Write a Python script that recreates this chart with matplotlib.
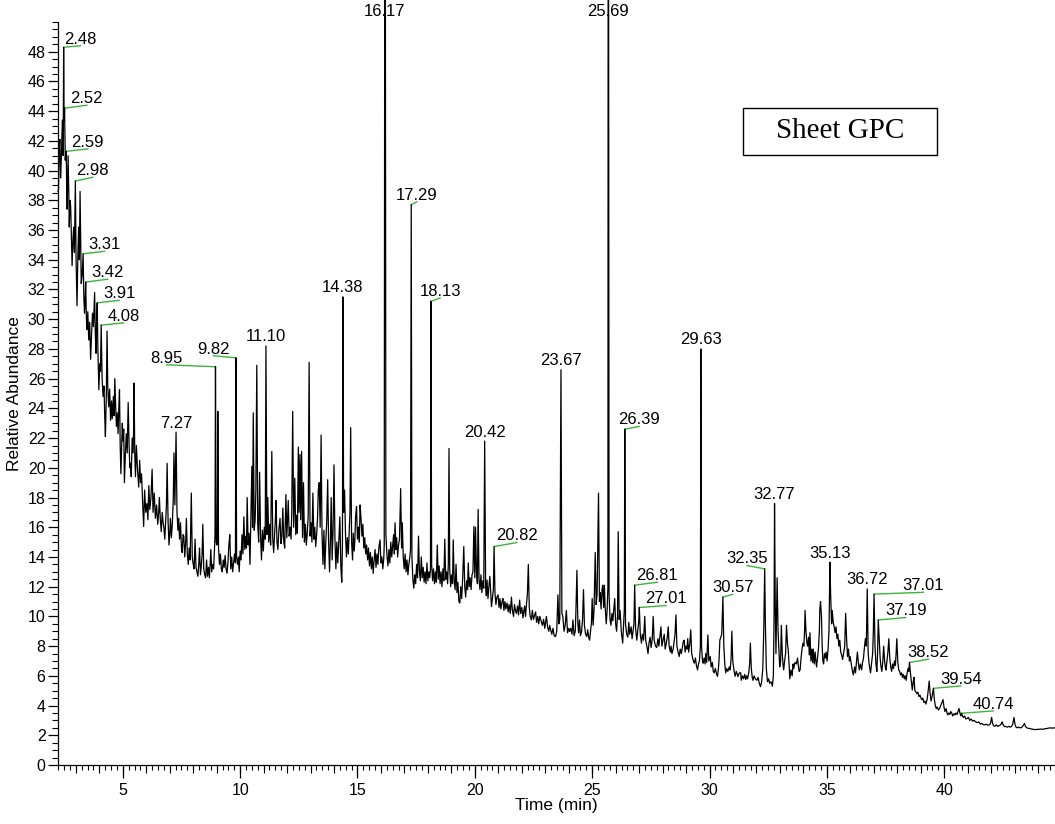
import matplotlib
matplotlib.use('Agg')
import matplotlib.pyplot as plt
from matplotlib.patches import Rectangle
import numpy as np

plt.rcParams['font.family'] = ['Liberation Sans', 'DejaVu Sans']

# ---------------- data: chromatogram trace (time [min], relative abundance) ----------------
trace_a = [(2.24, 38.6), (2.26, 38.7), (2.29, 41.5), (2.32, 42.1), (2.35, 39.5), (2.38, 40.7), (2.41, 42.5),
           (2.43, 43.4), (2.46, 41.0), (2.48, 48.3), (2.50, 43.4), (2.52, 44.2), (2.55, 40.7), (2.57, 41.2),
           (2.59, 41.3), (2.61, 39.0), (2.63, 37.4), (2.67, 41.0), (2.70, 38.5), (2.72, 36.2), (2.75, 38.0),
           (2.78, 37.6), (2.81, 35.5), (2.84, 33.6), (2.88, 35.5), (2.91, 36.2), (2.94, 34.5), (2.98, 39.3),
           (3.01, 34.0), (3.05, 30.9), (3.09, 34.5), (3.12, 36.2), (3.15, 34.0), (3.18, 38.6), (3.21, 35.0),
           (3.23, 32.4), (3.27, 33.0), (3.31, 34.4), (3.34, 31.5), (3.37, 30.4), (3.40, 31.5), (3.42, 32.5),
           (3.45, 30.0), (3.48, 29.3), (3.51, 30.5), (3.55, 28.6), (3.59, 29.8), (3.63, 27.3), (3.67, 29.0),
           (3.71, 30.4), (3.75, 29.5), (3.80, 31.8), (3.83, 29.0), (3.86, 27.7), (3.88, 29.5), (3.91, 31.1),
           (3.94, 28.0), (3.98, 25.25), (4.02, 27.0), (4.05, 26.5), (4.08, 29.6), (4.12, 26.0), (4.16, 24.8),
           (4.20, 25.5), (4.23, 23.5), (4.26, 22.1), (4.30, 25.0), (4.33, 29.2), (4.36, 25.5), (4.40, 24.1),
           (4.44, 25.3), (4.48, 23.2), (4.52, 24.5), (4.55, 23.3), (4.60, 24.8), (4.63, 23.5), (4.66, 26.0),
           (4.70, 24.0), (4.73, 22.8), (4.76, 23.7), (4.80, 22.3), (4.83, 24.0), (4.86, 25.25), (4.89, 21.5),
           (4.92, 19.6), (4.95, 21.2), (4.98, 23.0), (5.01, 21.8), (5.04, 22.6), (5.07, 19.0), (5.11, 20.9),
           (5.15, 22.3), (5.19, 21.0), (5.23, 24.4), (5.27, 21.5), (5.30, 20.0), (5.33, 20.3), (5.36, 19.4),
           (5.40, 22.0), (5.44, 21.0), (5.46, 22.5), (5.48, 25.7)]

trace_b = [(5.51, 21.0), (5.54, 19.4), (5.58, 21.5), (5.63, 19.8), (5.68, 18.7), (5.72, 20.5), (5.76, 19.0),
           (5.80, 19.6), (5.85, 17.5), (5.89, 16.05), (5.93, 18.5), (5.98, 17.0), (6.03, 17.6), (6.07, 16.5),
           (6.11, 18.8), (6.15, 17.2), (6.20, 18.0), (6.25, 19.9), (6.29, 17.0), (6.34, 18.3), (6.39, 16.6),
           (6.44, 17.5), (6.49, 16.2), (6.53, 17.0), (6.56, 18.0), (6.60, 16.5), (6.64, 15.7), (6.68, 17.0),
           (6.72, 16.3), (6.75, 16.0), (6.79, 15.2), (6.83, 16.5), (6.86, 17.5), (6.89, 20.3), (6.93, 16.4),
           (6.97, 14.8), (7.01, 15.8), (7.03, 16.6), (7.07, 15.3), (7.11, 16.2), (7.15, 17.8), (7.18, 21.0),
           (7.22, 17.5), (7.27, 22.4), (7.31, 17.0), (7.35, 15.8), (7.38, 16.6), (7.42, 15.2), (7.46, 16.3),
           (7.50, 14.6), (7.53, 14.3), (7.57, 15.5), (7.60, 15.4), (7.64, 14.0), (7.68, 15.0), (7.71, 16.6),
           (7.75, 14.2), (7.79, 13.5), (7.83, 14.6), (7.87, 13.8), (7.92, 18.3), (7.96, 14.0), (8.00, 13.5),
           (8.04, 13.2), (8.08, 15.2), (8.12, 13.3), (8.16, 13.0), (8.20, 12.7), (8.24, 13.6), (8.27, 14.6),
           (8.31, 12.8), (8.35, 13.5), (8.38, 14.2), (8.41, 16.2), (8.45, 13.2), (8.49, 12.8), (8.53, 12.6),
           (8.57, 13.8), (8.61, 12.7), (8.65, 13.3), (8.69, 12.6), (8.72, 13.4), (8.75, 14.5), (8.79, 13.0),
           (8.83, 13.5), (8.87, 13.2), (8.91, 14.6), (8.93, 15.5), (8.95, 26.8), (8.98, 15.0), (9.01, 14.8),
           (9.03, 15.0), (9.05, 23.8), (9.08, 14.6), (9.12, 13.5), (9.16, 14.2), (9.20, 13.2), (9.24, 13.0),
           (9.28, 13.8), (9.32, 13.3), (9.36, 14.1), (9.40, 13.2), (9.44, 12.9), (9.48, 13.6), (9.52, 14.8),
           (9.56, 15.5), (9.60, 13.2), (9.64, 14.0), (9.68, 13.0), (9.72, 13.6), (9.76, 14.2), (9.80, 13.6),
           (9.82, 27.4), (9.85, 14.0), (9.89, 13.5), (9.93, 14.0), (9.96, 13.0), (10.00, 14.4), (10.04, 13.8),
           (10.08, 15.5), (10.12, 14.2), (10.16, 16.7), (10.20, 14.5), (10.24, 15.4), (10.27, 14.6)]

trace_c = [(10.30, 18.0), (10.34, 14.8), (10.38, 15.6), (10.42, 13.5), (10.46, 16.8), (10.50, 20.1), (10.53, 16.0),
           (10.56, 23.7), (10.60, 15.8), (10.64, 16.5), (10.67, 18.5), (10.71, 26.9), (10.75, 16.2), (10.79, 15.0),
           (10.83, 19.7), (10.87, 15.5), (10.91, 13.8), (10.95, 15.8), (10.99, 14.4), (11.03, 16.0), (11.07, 15.2),
           (11.10, 28.2), (11.14, 15.5), (11.18, 18.0), (11.22, 15.0), (11.26, 16.2), (11.30, 14.8), (11.35, 21.1),
           (11.39, 15.2), (11.43, 14.3), (11.47, 15.6), (11.50, 16.4), (11.53, 17.8), (11.57, 15.0), (11.61, 14.5),
           (11.65, 15.8), (11.70, 16.6), (11.74, 14.9), (11.78, 15.4), (11.82, 17.3), (11.86, 15.0), (11.90, 14.6),
           (11.95, 18.2), (11.99, 15.3), (12.02, 16.5), (12.05, 17.8), (12.09, 15.4), (12.13, 16.0), (12.17, 15.2),
           (12.20, 17.0), (12.24, 23.8), (12.28, 16.0), (12.33, 19.3), (12.37, 15.5), (12.41, 16.8), (12.44, 15.6),
           (12.48, 21.4), (12.51, 17.0), (12.55, 20.9), (12.58, 16.5), (12.62, 21.1), (12.66, 15.3), (12.70, 19.0),
           (12.74, 15.0), (12.78, 16.2), (12.82, 14.8), (12.86, 15.6), (12.90, 16.8), (12.94, 27.1), (12.98, 15.4),
           (13.02, 16.3), (13.06, 15.0), (13.10, 18.3), (13.14, 15.2), (13.18, 16.0), (13.22, 14.7), (13.26, 15.5),
           (13.30, 16.7), (13.33, 18.5), (13.37, 19.0), (13.41, 16.0), (13.45, 22.2), (13.49, 15.5), (13.53, 13.5),
           (13.57, 15.8), (13.61, 13.2), (13.65, 15.0), (13.69, 16.4), (13.73, 19.2), (13.77, 15.0), (13.81, 13.0),
           (13.85, 15.3), (13.88, 18.0), (13.92, 13.8), (13.96, 15.8), (14.00, 20.2), (14.04, 15.2), (14.08, 13.2),
           (14.12, 15.0), (14.16, 13.6), (14.21, 15.2), (14.25, 16.7), (14.29, 13.4), (14.33, 12.3), (14.36, 15.0),
           (14.38, 31.5), (14.41, 17.0), (14.45, 18.5), (14.49, 15.5), (14.53, 14.0), (14.57, 15.3), (14.61, 14.2),
           (14.65, 15.8), (14.68, 17.0), (14.71, 22.7), (14.75, 15.0), (14.79, 13.8), (14.82, 15.6), (14.86, 14.4),
           (14.89, 15.2), (14.92, 16.7), (14.96, 17.4), (15.00, 15.2), (15.04, 16.0), (15.08, 15.0), (15.11, 17.5),
           (15.15, 16.6), (15.19, 15.4), (15.23, 16.2), (15.27, 14.6), (15.31, 15.3), (15.35, 14.2), (15.39, 14.8),
           (15.43, 13.8), (15.47, 14.6), (15.51, 13.4), (15.55, 14.3), (15.59, 13.2), (15.63, 14.0), (15.67, 12.9),
           (15.71, 13.8), (15.75, 14.5), (15.79, 13.3), (15.83, 14.2), (15.87, 13.5), (15.91, 14.6), (15.96, 15.15),
           (16.00, 13.6), (16.04, 14.0), (16.08, 13.2), (16.12, 13.9)]

trace_d = [(16.14, 14.8), (16.16, 52.0), (16.19, 52.0), (16.21, 15.5), (16.26, 14.0), (16.30, 13.4), (16.34, 14.5),
           (16.38, 13.6), (16.42, 15.0), (16.46, 14.0), (16.50, 14.8), (16.54, 15.5), (16.57, 14.2), (16.60, 16.3),
           (16.64, 14.5), (16.67, 15.3), (16.71, 14.0), (16.75, 14.8), (16.79, 15.2), (16.84, 18.6), (16.88, 14.6),
           (16.91, 16.3), (16.95, 14.0), (16.99, 13.2), (17.03, 14.2), (17.07, 13.0), (17.11, 13.8), (17.15, 12.8),
           (17.19, 13.5), (17.23, 14.0), (17.26, 14.5), (17.29, 37.7), (17.32, 14.0), (17.36, 12.5), (17.40, 11.9),
           (17.44, 12.8), (17.48, 12.2), (17.52, 13.5), (17.56, 12.6), (17.60, 15.4), (17.64, 13.0), (17.68, 12.4),
           (17.72, 14.0), (17.76, 12.6), (17.80, 13.3), (17.84, 12.3), (17.88, 13.0), (17.92, 12.2), (17.96, 13.6),
           (18.00, 12.4), (18.04, 13.0), (18.08, 12.6), (18.11, 13.2), (18.13, 31.2), (18.16, 13.5), (18.20, 12.4),
           (18.24, 13.2), (18.28, 12.2), (18.32, 13.0), (18.36, 12.3), (18.40, 14.8), (18.44, 12.5), (18.48, 13.4),
           (18.52, 12.2), (18.56, 13.0), (18.60, 12.0), (18.64, 13.2), (18.68, 12.4), (18.72, 15.2), (18.76, 12.5),
           (18.80, 13.0), (18.84, 12.2), (18.87, 13.5), (18.90, 21.3), (18.93, 13.2), (18.97, 12.0), (19.01, 12.8),
           (19.05, 12.2), (19.08, 15.15), (19.12, 12.4), (19.16, 11.8), (19.20, 13.5), (19.24, 11.6), (19.28, 12.3),
           (19.32, 11.0), (19.36, 10.9), (19.40, 12.0), (19.44, 11.2), (19.48, 12.5), (19.53, 14.7), (19.57, 12.0),
           (19.61, 11.3), (19.65, 12.4), (19.69, 11.8), (19.72, 13.6), (19.76, 12.0), (19.80, 12.6), (19.84, 11.8),
           (19.88, 12.8), (19.92, 13.0), (19.96, 16.05), (20.00, 12.6), (20.03, 16.0), (20.07, 13.0), (20.11, 12.2),
           (20.14, 17.2), (20.18, 12.5), (20.22, 11.8), (20.26, 12.8), (20.30, 11.6), (20.34, 12.4), (20.38, 11.9),
           (20.42, 21.8), (20.46, 12.0), (20.49, 11.4), (20.52, 12.45), (20.56, 11.2), (20.60, 12.0), (20.64, 12.7),
           (20.68, 11.5), (20.71, 10.66), (20.75, 11.2), (20.79, 11.8), (20.82, 14.7), (20.86, 11.5), (20.90, 10.8),
           (20.94, 11.3), (20.99, 11.45), (21.03, 10.6), (21.07, 11.2), (21.11, 10.5), (21.16, 11.0), (21.20, 11.2),
           (21.24, 10.4), (21.28, 11.0), (21.32, 10.5), (21.37, 10.9), (21.42, 10.3), (21.46, 10.8), (21.51, 10.2),
           (21.56, 11.3), (21.60, 10.4), (21.65, 10.0), (21.69, 10.8), (21.73, 10.4), (21.77, 10.2), (21.82, 10.7),
           (21.86, 10.1), (21.91, 11.1), (21.95, 10.2), (22.00, 10.6), (22.05, 9.9), (22.09, 10.4), (22.12, 10.7),
           (22.16, 10.0), (22.20, 10.8), (22.24, 11.5), (22.28, 13.5), (22.32, 10.6), (22.36, 10.0), (22.41, 9.76),
           (22.45, 10.4), (22.50, 9.8), (22.55, 10.1), (22.59, 10.3), (22.63, 9.6), (22.68, 10.0), (22.72, 9.5),
           (22.77, 10.0), (22.83, 9.66), (22.88, 9.4), (22.93, 9.8), (22.98, 9.2), (23.05, 10.0), (23.10, 9.3),
           (23.15, 9.0), (23.19, 9.4), (23.23, 9.1), (23.28, 8.8), (23.33, 9.2), (23.38, 8.7), (23.44, 8.64)]

trace_e = [(23.49, 9.0), (23.54, 11.45), (23.58, 9.5), (23.62, 9.8), (23.67, 26.6), (23.71, 10.2), (23.75, 10.0),
           (23.80, 9.0), (23.85, 9.4), (23.90, 10.4), (23.95, 8.9), (24.00, 9.2), (24.04, 8.98), (24.09, 9.2),
           (24.14, 8.8), (24.18, 9.76), (24.23, 8.7), (24.28, 9.0), (24.31, 10.5), (24.35, 13.1), (24.39, 9.5),
           (24.42, 8.9), (24.46, 9.76), (24.50, 8.7), (24.55, 9.0), (24.59, 9.8), (24.63, 11.8), (24.67, 9.4),
           (24.72, 8.8), (24.77, 8.64), (24.81, 9.1), (24.85, 8.6), (24.89, 8.4), (24.93, 9.0), (24.97, 9.6),
           (25.00, 11.2), (25.04, 9.4), (25.08, 10.5), (25.13, 14.3), (25.17, 10.8), (25.21, 11.5), (25.27, 18.3),
           (25.31, 11.0), (25.34, 11.6), (25.38, 10.5), (25.42, 11.8), (25.45, 12.1), (25.49, 10.6), (25.52, 12.1),
           (25.55, 10.7), (25.60, 9.5), (25.64, 10.5), (25.67, 12.0), (25.68, 52.0), (25.70, 52.0), (25.72, 11.5),
           (25.76, 9.8), (25.80, 9.4), (25.84, 10.2), (25.88, 9.7), (25.93, 10.6), (25.96, 11.2), (26.00, 9.5),
           (26.04, 9.0), (26.08, 10.0), (26.11, 15.7), (26.15, 9.8), (26.19, 10.4), (26.24, 9.0), (26.30, 8.2),
           (26.34, 9.5), (26.37, 10.5), (26.39, 22.6), (26.42, 9.5), (26.47, 8.8), (26.52, 8.6), (26.56, 9.6),
           (26.60, 8.8), (26.66, 9.3), (26.70, 8.5), (26.74, 9.0), (26.78, 9.5), (26.81, 12.1), (26.85, 9.2),
           (26.90, 8.4), (26.94, 9.0), (26.98, 9.6), (27.01, 10.6), (27.05, 8.8), (27.10, 8.2), (27.14, 8.8),
           (27.19, 8.4), (27.24, 10.0), (27.28, 8.4), (27.33, 8.0), (27.38, 7.5), (27.42, 8.2), (27.47, 8.6),
           (27.51, 7.9), (27.56, 8.5), (27.60, 10.0), (27.64, 8.4), (27.70, 8.0), (27.75, 7.9), (27.80, 8.5),
           (27.84, 8.0), (27.88, 8.6), (27.93, 9.3), (27.97, 8.0), (28.02, 8.4), (28.07, 8.8), (28.11, 7.8),
           (28.16, 8.2), (28.20, 8.6), (28.24, 9.3), (28.28, 8.0), (28.33, 7.6), (28.36, 8.0), (28.40, 7.5),
           (28.45, 7.8), (28.49, 8.3), (28.53, 8.8), (28.57, 10.1), (28.61, 8.0), (28.66, 7.6), (28.71, 7.3),
           (28.75, 7.8), (28.80, 7.5), (28.85, 8.0), (28.88, 8.3), (28.92, 8.4), (28.96, 7.6), (29.00, 8.0),
           (29.04, 7.8), (29.07, 8.5), (29.11, 7.6), (29.16, 8.2), (29.20, 9.1), (29.24, 7.5), (29.28, 7.2),
           (29.31, 7.0), (29.35, 6.85), (29.40, 7.2), (29.44, 6.7), (29.49, 6.4), (29.53, 6.8), (29.57, 7.0),
           (29.61, 8.0), (29.63, 28.0), (29.66, 8.0), (29.70, 7.0), (29.73, 6.85), (29.77, 7.2), (29.81, 6.8),
           (29.84, 7.5), (29.88, 6.9), (29.93, 8.75), (29.97, 7.0), (30.03, 7.3), (30.07, 6.6), (30.12, 6.9),
           (30.16, 6.3), (30.20, 6.2), (30.25, 6.5), (30.30, 6.1), (30.34, 5.97), (30.38, 6.5), (30.41, 7.2),
           (30.44, 8.4), (30.48, 8.6), (30.52, 8.8), (30.57, 11.3), (30.61, 8.0), (30.65, 6.8), (30.69, 6.2),
           (30.73, 6.5), (30.78, 6.3), (30.84, 6.6), (30.88, 6.4), (30.92, 7.2), (30.95, 9.0), (30.99, 7.0),
           (31.04, 6.4), (31.09, 5.97), (31.14, 6.3), (31.21, 5.95), (31.27, 6.2), (31.33, 6.2), (31.35, 5.7),
           (31.40, 6.0), (31.45, 5.8), (31.50, 6.1), (31.54, 5.75), (31.58, 6.0), (31.62, 5.8), (31.67, 6.2),
           (31.71, 6.8), (31.74, 8.2), (31.78, 6.5), (31.82, 5.9), (31.85, 5.7), (31.90, 6.0), (31.95, 5.8),
           (32.02, 5.7), (32.07, 5.9), (32.12, 5.5), (32.17, 5.27), (32.22, 5.6), (32.27, 6.5), (32.31, 9.0),
           (32.35, 13.2), (32.38, 9.5), (32.42, 6.5), (32.47, 5.6), (32.52, 5.8), (32.56, 5.5), (32.62, 5.6),
           (32.68, 5.3), (32.72, 6.0), (32.75, 10.0), (32.77, 17.6), (32.80, 11.0), (32.83, 7.5), (32.88, 12.6),
           (32.92, 9.0), (32.95, 8.0), (32.99, 6.6), (33.03, 7.0), (33.06, 9.4), (33.10, 7.5), (33.13, 6.8),
           (33.16, 6.4), (33.20, 7.0), (33.24, 7.5), (33.28, 9.4), (33.32, 8.2), (33.35, 7.8), (33.39, 6.8),
           (33.42, 5.8)]

trace_f = [(33.47, 6.4), (33.52, 6.0), (33.56, 6.8), (33.59, 6.5), (33.64, 6.9), (33.70, 6.8), (33.75, 7.2),
           (33.79, 6.6), (33.82, 6.3), (33.86, 6.4), (33.90, 7.2), (33.94, 7.8), (33.98, 8.2), (34.02, 8.0),
           (34.05, 9.0), (34.07, 10.4), (34.11, 9.0), (34.15, 8.2), (34.18, 8.0), (34.22, 8.6), (34.25, 7.4),
           (34.28, 8.9), (34.32, 7.0), (34.36, 7.8), (34.39, 6.9), (34.42, 7.8), (34.46, 6.8), (34.50, 7.6),
           (34.53, 7.0), (34.56, 6.6), (34.60, 7.2), (34.64, 7.8), (34.68, 9.0), (34.70, 10.5), (34.73, 11.0),
           (34.77, 10.0), (34.80, 8.0), (34.83, 7.0), (34.86, 6.8), (34.90, 7.5), (34.94, 7.2), (34.97, 7.6),
           (35.01, 7.0), (35.05, 7.8), (35.09, 9.0), (35.13, 13.65), (35.16, 11.5), (35.20, 9.5), (35.23, 10.4),
           (35.27, 9.6), (35.31, 9.3), (35.35, 8.9), (35.39, 9.3), (35.43, 8.5), (35.47, 8.8), (35.51, 8.0),
           (35.55, 8.4), (35.59, 7.6), (35.63, 7.4), (35.67, 7.1), (35.72, 7.6), (35.76, 8.0), (35.80, 10.2),
           (35.84, 8.5), (35.88, 7.3), (35.92, 7.8), (35.96, 7.0), (35.99, 7.3), (36.04, 6.8), (36.09, 6.3),
           (36.13, 6.06), (36.18, 6.6), (36.22, 6.2), (36.26, 6.9), (36.30, 7.6), (36.34, 6.9), (36.38, 6.4),
           (36.43, 6.8), (36.48, 6.4), (36.52, 6.9), (36.56, 7.2), (36.60, 7.9), (36.64, 8.5), (36.68, 8.0),
           (36.72, 11.85), (36.76, 7.5), (36.80, 6.8), (36.86, 6.2), (36.90, 6.8), (36.95, 7.5), (36.98, 9.0),
           (37.01, 11.5), (37.05, 8.0), (37.09, 6.8), (37.13, 6.3), (37.16, 7.5), (37.19, 9.76), (37.23, 8.5),
           (37.27, 7.2), (37.30, 6.7), (37.34, 6.3), (37.38, 6.9), (37.42, 8.0), (37.46, 7.0), (37.49, 6.6),
           (37.52, 6.4), (37.56, 7.0), (37.60, 7.6), (37.64, 8.5), (37.68, 7.2), (37.72, 6.6), (37.76, 6.3),
           (37.80, 6.8), (37.84, 6.5), (37.88, 7.0), (37.92, 6.7), (37.95, 7.5), (37.98, 8.5), (38.02, 7.0),
           (38.06, 6.4), (38.10, 6.3), (38.14, 6.06), (38.18, 6.2), (38.22, 5.9), (38.26, 6.1), (38.30, 5.8),
           (38.34, 6.0), (38.38, 5.7), (38.42, 6.2), (38.46, 6.5), (38.49, 6.3), (38.52, 6.9), (38.56, 6.2),
           (38.60, 5.6), (38.64, 5.05), (38.68, 5.6), (38.71, 5.9), (38.75, 5.0), (38.80, 4.9), (38.84, 4.8),
           (38.88, 4.9), (38.92, 4.6), (38.97, 4.7), (39.01, 4.5), (39.05, 4.4), (39.09, 4.5), (39.13, 4.2),
           (39.18, 4.3), (39.22, 4.1), (39.27, 4.4), (39.31, 4.9), (39.36, 5.65), (39.40, 4.8), (39.44, 4.3),
           (39.48, 4.6), (39.51, 4.9), (39.54, 5.16), (39.58, 4.4), (39.62, 4.0), (39.66, 3.8), (39.70, 3.9),
           (39.75, 3.7), (39.80, 3.8), (39.85, 4.0), (39.90, 4.2), (39.95, 4.4), (39.99, 3.9), (40.03, 3.6),
           (40.08, 3.8), (40.12, 3.5), (40.15, 3.37), (40.20, 3.5), (40.24, 3.4), (40.28, 3.6), (40.32, 3.5),
           (40.36, 3.3), (40.41, 3.45), (40.46, 3.37), (40.50, 3.5), (40.55, 3.4), (40.59, 3.6), (40.63, 3.8),
           (40.67, 3.5), (40.71, 3.3), (40.74, 3.48), (40.78, 3.3), (40.82, 3.2), (40.87, 3.3), (40.92, 3.1),
           (40.98, 3.14), (41.03, 3.2), (41.09, 3.0), (41.15, 3.1), (41.21, 2.95), (41.27, 3.0), (41.33, 2.92),
           (41.40, 2.85), (41.47, 2.9), (41.54, 2.75), (41.60, 2.8), (41.66, 2.72), (41.72, 2.7), (41.79, 2.75),
           (41.86, 2.68), (41.92, 2.7), (41.97, 2.8), (42.02, 3.2), (42.06, 2.8), (42.10, 2.65), (42.16, 2.6),
           (42.22, 2.7), (42.28, 2.6), (42.34, 2.65), (42.40, 2.7), (42.44, 2.8), (42.47, 2.9), (42.51, 2.7),
           (42.57, 2.6), (42.63, 2.58), (42.69, 2.55), (42.75, 2.6), (42.81, 2.55), (42.87, 2.6), (42.92, 2.75),
           (42.97, 3.2), (43.02, 2.7), (43.06, 2.55), (43.11, 2.5), (43.17, 2.55), (43.23, 2.5), (43.29, 2.52),
           (43.34, 2.6), (43.38, 2.7), (43.42, 2.8), (43.46, 2.6), (43.52, 2.5), (43.58, 2.47), (43.65, 2.45),
           (43.72, 2.42), (43.80, 2.4), (43.88, 2.38), (43.96, 2.4), (44.04, 2.4), (44.12, 2.42), (44.20, 2.4),
           (44.28, 2.44), (44.36, 2.45), (44.44, 2.48), (44.52, 2.5), (44.60, 2.48), (44.68, 2.5), (44.72, 2.5)]

# ---------------- data: labelled peaks ----------------
peak_labels = ['2.48', '2.52', '2.59', '2.98', '3.31', '3.42', '3.91', '4.08', '7.27', '8.95', '9.82',
               '11.10', '14.38', '16.17', '17.29', '18.13', '20.42', '20.82', '23.67', '25.69', '26.39',
               '26.81', '27.01', '29.63', '30.57', '32.35', '32.77', '35.13', '36.72', '37.01', '37.19',
               '38.52', '39.54', '40.74']
peak_times = [float(s) for s in peak_labels]

# layout: where a displaced label sits (time, abundance); None = directly above the peak
label_anchor = [(3.20, 48.4), (3.47, 44.4), (3.51, 41.46), (3.72, 39.55), (4.22, 34.57), (4.36, 32.69),
                (4.84, 31.27), (5.03, 29.75), None, (6.87, 26.93), (8.86, 27.54),
                None, None, None, (17.53, 37.9), (18.52, 31.43), None, (21.79, 14.97), None, None,
                (27.0, 22.78), (27.78, 12.3), (28.15, 10.73), None, (30.99, 11.49), (31.6, 13.42),
                None, None, None, (39.11, 11.62), (38.36, 9.92), (39.33, 7.12), (40.7, 5.32), (42.09, 3.64)]

x_major = [5, 10, 15, 20, 25, 30, 35, 40]
y_major = list(range(0, 50, 2))

# ---------------- build ----------------
pts = trace_a + trace_b + trace_c + trace_d + trace_e + trace_f
t = np.array([p[0] for p in pts])
v = np.array([p[1] for p in pts])
order = np.argsort(t, kind='stable')
t, v = t[order], v[order]

fig = plt.figure(figsize=(10.55, 8.24), dpi=100)
ax = fig.add_axes([58 / 1055, 59 / 824, 997 / 1055, 743 / 824])
ax.set_xlim(2.24, 44.72)
ax.set_ylim(0, 50)

ax.plot(t, v, color='black', lw=0.9, clip_on=False, zorder=3)

LABEL_FS = 12
ymax = ax.get_ylim()[1]
for lab, pt, anc in zip(peak_labels, peak_times, label_anchor):
    apex = float(np.interp(pt, t, v))
    if anc is None:
        ax.text(pt, min(apex, ymax + 0.1) + 0.3, lab, ha='center', va='baseline', fontsize=LABEL_FS,
                clip_on=False, zorder=4)
    else:
        at, av = anc
        ax.plot([pt, at], [apex, av], color='#3cb43c', lw=1.0, clip_on=False, zorder=2)
        ax.text(at, av + 0.15, lab, ha='center', va='baseline', fontsize=LABEL_FS, clip_on=False, zorder=4)

for s in ['top', 'right']:
    ax.spines[s].set_visible(False)
for s in ['left', 'bottom']:
    ax.spines[s].set_linewidth(0.9)

ax.set_xticks(x_major)
ax.set_xticks(np.arange(2.25, 44.75, 0.25), minor=True)
ax.set_yticks(y_major)
ax.set_yticks(np.arange(0, 50.01, 0.5), minor=True)
ax.tick_params(axis='x', which='major', direction='out', length=9, width=0.9, pad=4, labelsize=11.5)
ax.tick_params(axis='x', which='minor', direction='out', length=3.5, width=0.8)
ax.tick_params(axis='y', which='major', direction='out', length=7, width=0.9, pad=2, labelsize=11.5)
ax.tick_params(axis='y', which='minor', direction='out', length=4.5, width=0.8)

sec = ax.secondary_xaxis('bottom')
sec.set_xticks(list(range(3, 45)))
sec.tick_params(axis='x', which='major', direction='out', length=6, width=0.8, labelbottom=False)
sec.tick_params(axis='x', which='minor', length=0)
sec.spines['bottom'].set_visible(False)

ax.set_xlabel('Time (min)', fontsize=12.5)
ax.set_ylabel('Relative Abundance', fontsize=12.5)
ax.xaxis.set_label_coords(0.5, -0.044)
ax.yaxis.set_label_coords(-0.036, 0.5)

fig.add_artist(Rectangle((743 / 1055, (824 - 155) / 824), 194 / 1055, 47 / 824,
                         transform=fig.transFigure, fill=False, ec='black', lw=1.0))
fig.text(840 / 1055, (824 - 131) / 824, 'Sheet GPC', family=['Liberation Serif', 'DejaVu Serif'],
         fontsize=21, ha='center', va='center')

fig.savefig('out.png', dpi=100)
